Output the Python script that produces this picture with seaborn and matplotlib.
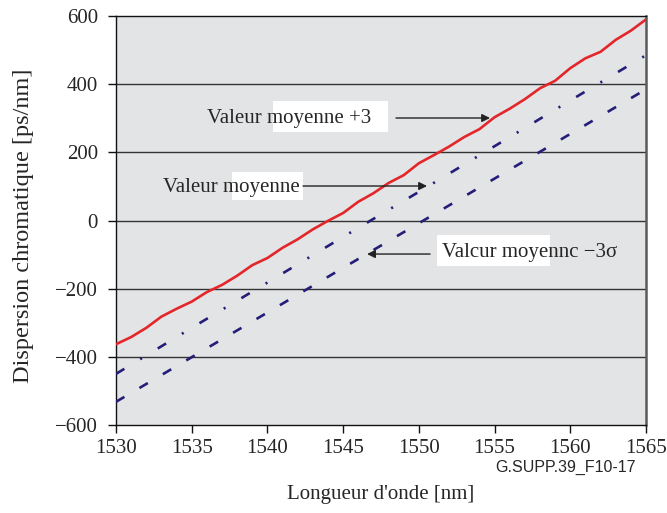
import numpy as np
import pandas as pd
import matplotlib
matplotlib.use("Agg")
import matplotlib.pyplot as plt
import seaborn as sns
from matplotlib.patches import Rectangle

# Chromatic dispersion of a fibre link vs. wavelength
wavelength = list(range(1530, 1566))
upper_3sigma = [-363, -342, -315, -282, -259, -238, -210, -189, -162, -131,
                -110, -80, -55, -26, -1, 22, 55, 80, 110, 133,
                168, 192, 217, 245, 268, 303, 328, 356, 388, 410,
                447, 476, 495, 530, 557, 590]

wavelength_5nm = [1530, 1535, 1540, 1545, 1550, 1555, 1560, 1565]
mean_value = [-450, -315, -182, -48, 84, 218, 352, 485]
lower_3sigma = [-532, -401, -270, -139, -8, 123, 254, 385]

x_ticks = [1530, 1535, 1540, 1545, 1550, 1555, 1560, 1565]
y_ticks = [-600, -400, -200, 0, 200, 400, 600]

sns.set_theme(style="white")
plt.rcParams["font.family"] = ["Liberation Serif", "DejaVu Serif"]
plt.rcParams["axes.unicode_minus"] = True

fig = plt.figure(figsize=(6.67, 5.13), dpi=100)
ax = fig.add_axes([116 / 667, 88 / 513, 530 / 667, 409 / 513])
ax.set_facecolor("#e3e4e6")

navy = "#251e78"
red = "#e3262a"
lw = 1.9

sns.lineplot(x=wavelength, y=upper_3sigma, ax=ax, color=red, linewidth=lw, zorder=3)
sns.lineplot(x=wavelength_5nm, y=mean_value, ax=ax, color=navy, linewidth=lw,
             zorder=3).lines[-1].set_dashes([3.7, 7.0, 0.8, 7.0])
sns.lineplot(x=wavelength_5nm, y=lower_3sigma, ax=ax, color=navy, linewidth=lw,
             zorder=3).lines[-1].set_dashes([3.7, 6.6])

ax.set_xlim(1530, 1565)
ax.set_ylim(-600, 600)
ax.set_xticks(x_ticks)
ax.set_yticks(y_ticks)
ax.set_yticklabels([f"{v}".replace("-", "\u2212") for v in y_ticks])

for v in y_ticks[1:-1]:
    ax.axhline(v, color="#333333", linewidth=1.0, zorder=1)

for side in ["left", "bottom", "top"]:
    ax.spines[side].set_color("#111111")
    ax.spines[side].set_linewidth(1.0)
ax.spines["right"].set_color("#5a5a5a")
ax.spines["right"].set_linewidth(1.8)

ax.tick_params(axis="y", direction="out", length=6, width=1, color="#111111",
               labelsize=15, pad=7, left=True)
ax.tick_params(axis="x", direction="out", length=6, width=1, color="#111111",
               labelsize=15, pad=4, bottom=True)

ax.set_xlabel("Longueur d'onde [nm]", fontsize=15)
ax.xaxis.set_label_coords(0.5, -0.146)
ax.set_ylabel("Dispersion chromatique [ps/nm]", fontsize=17.5)
ax.yaxis.set_label_coords(-0.155, 0.488)

# White label patches behind the annotations
for (x0, x1, y0, y1) in [(1540.37, 1547.96, 259.6, 350.6),
                         (1537.66, 1542.35, 60.0, 142.3),
                         (1551.2, 1558.66, -133.6, -42.6)]:
    ax.add_patch(Rectangle((x0, y0), x1 - x0, y1 - y0, facecolor="white",
                           edgecolor="none", zorder=4))

ax.text(1536.01, 286, "Valeur moyenne +3", fontsize=15, zorder=5,
        va="baseline", ha="left")
ax.text(1533.1, 83.6, "Valeur moyenne", fontsize=15, zorder=5,
        va="baseline", ha="left")
ax.text(1551.53, -107, "Valcur moyennc \u22123\u03c3", fontsize=15, zorder=5,
        va="baseline", ha="left")

arrow_style = dict(arrowstyle="-|>", color="#222222", lw=1.0,
                   mutation_scale=12, shrinkA=0, shrinkB=0)
ax.annotate("", xy=(1554.70, 300.7), xytext=(1548.49, 300.7),
            arrowprops=arrow_style, zorder=5)
ax.annotate("", xy=(1550.54, 101.2), xytext=(1542.35, 101.2),
            arrowprops=arrow_style, zorder=5)
ax.annotate("", xy=(1546.58, -98.4), xytext=(1550.74, -98.4),
            arrowprops=arrow_style, zorder=5)

fig.text(565 / 667, 1 - 467 / 513, "G.SUPP.39_F10-17", fontsize=11.5,
         family=["Liberation Sans", "DejaVu Sans"], ha="center", va="center")

fig.savefig("out.png", dpi=100, facecolor="white")
